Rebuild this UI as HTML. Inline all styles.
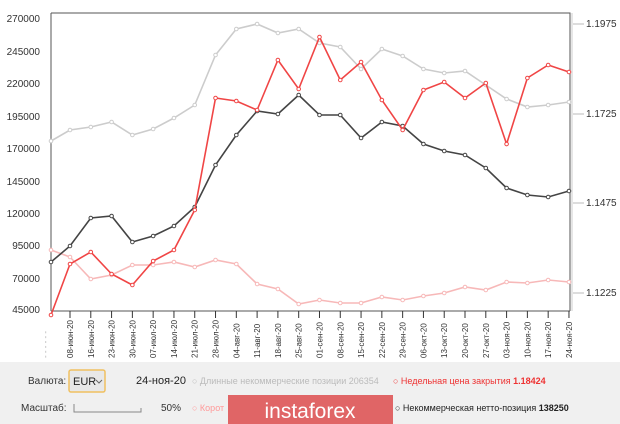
<!DOCTYPE html>
<html><head><meta charset="utf-8"><style>
html,body{margin:0;padding:0;width:620px;height:424px;overflow:hidden;background:#fff;font-family:"Liberation Sans","DejaVu Sans",sans-serif;}
</style></head><body>
<svg width="620" height="424" xmlns="http://www.w3.org/2000/svg" font-family="Liberation Sans, DejaVu Sans, sans-serif">
<rect x="0" y="0" width="620" height="424" fill="#fff"/>
<rect x="0" y="362" width="620" height="62" fill="#f0f0f0"/>
<path d="M51 13 H570 V311" fill="none" stroke="#555" stroke-width="1"/>
<line x1="51" y1="13" x2="51" y2="311" stroke="#555"/>
<line x1="51" y1="311" x2="570" y2="311" stroke="#555"/>
<line x1="572" y1="13" x2="572" y2="311" stroke="#ccc"/>
<g font-size="10" fill="#333" text-anchor="end">
<text x="40" y="22">270000</text><text x="40" y="55">245000</text><text x="40" y="87">220000</text><text x="40" y="120">195000</text><text x="40" y="152">170000</text><text x="40" y="185">145000</text><text x="40" y="217">120000</text><text x="40" y="249">95000</text><text x="40" y="282">70000</text><text x="40" y="313">45000</text>
</g>
<g stroke="#bbb"><line x1="573" y1="24" x2="584" y2="24"/><line x1="573" y1="114" x2="584" y2="114"/><line x1="573" y1="203" x2="584" y2="203"/><line x1="573" y1="293" x2="584" y2="293"/></g>
<g font-size="10" fill="#333"><text x="586" y="27">1.1975</text><text x="586" y="117">1.1725</text><text x="586" y="206">1.1475</text><text x="586" y="296">1.1225</text></g>
<g id="ticks" stroke="#333"></g>
<g id="xl" font-size="8" fill="#333"></g>
<g id="series"></g>
<text x="28" y="384" font-size="10" fill="#333">Валюта:</text>
<rect x="69" y="370" width="36" height="22" fill="#e8e8e8" stroke="#f0c060" stroke-width="1.5" rx="2"/>
<text x="73" y="385" font-size="11" fill="#222">EUR</text>
<path d="M96 380 l3 3 l3 -3" fill="none" stroke="#666"/>
<text x="136" y="384" font-size="11" fill="#222">24-ноя-20</text>
<text x="192" y="384" font-size="9" fill="#bbb">○ Длинные некоммерческие позиции  206354</text>
<text x="393" y="384" font-size="9" fill="#e33">○ Недельная цена закрытия  <tspan font-weight="bold">1.18424</tspan></text>
<text x="21" y="411" font-size="10" fill="#333">Масштаб:</text>
<path d="M74 404 v8 h67 v-4" fill="none" stroke="#888"/>
<text x="161" y="411" font-size="10" fill="#333">50%</text>
<text x="192" y="411" font-size="9" fill="#f99">○ Корот</text>
<rect x="228" y="395" width="165" height="29" fill="#e06566"/>
<text x="310" y="418" font-size="21" fill="#fff" text-anchor="middle">instaforex</text>
<text x="395" y="411" font-size="9" fill="#222">○ Некоммерческая нетто-позиция  <tspan font-weight="bold">138250</tspan></text>
</svg>
<script>
const X=[51];for(let i=0;i<25;i++)X.push(70+i*20.79);
const S=[
["#ccc",[141,130,127,122,135,129,118,105,55,29,24,33,29,43,47,69,49,56,69,73,71,85,99,107,105,102]],
["#f7b8b8",[250,257,279,275,265,265,262,267,260,264,284,289,304,300,303,303,297,300,296,293,287,290,282,283,280,282]],
["#444",[262,246,218,216,242,236,226,207,165,135,111,114,95,115,115,138,122,126,144,151,155,168,188,195,197,191]],
["#f04545",[315,264,252,274,285,261,250,210,98,101,110,60,89,37,80,62,100,130,90,82,98,83,144,78,65,72]]];
const ns="http://www.w3.org/2000/svg",g=document.getElementById("series");
S.forEach(([c,ys])=>{const p=document.createElementNS(ns,"polyline");p.setAttribute("points",ys.map((y,i)=>X[i]+","+y).join(" "));p.setAttribute("fill","none");p.setAttribute("stroke",c);p.setAttribute("stroke-width","1.6");g.appendChild(p);
ys.forEach((y,i)=>{const e=document.createElementNS(ns,"circle");e.setAttribute("cx",X[i]);e.setAttribute("cy",y);e.setAttribute("r","1.8");e.setAttribute("fill","#fff");e.setAttribute("stroke",c);g.appendChild(e);});});
const L=["08-июн-20","16-июн-20","23-июн-20","30-июн-20","07-июл-20","14-июл-20","21-июл-20","28-июл-20","04-авг-20","11-авг-20","18-авг-20","25-авг-20","01-сен-20","08-сен-20","15-сен-20","22-сен-20","29-сен-20","06-окт-20","13-окт-20","20-окт-20","27-окт-20","03-ноя-20","10-ноя-20","17-ноя-20","24-ноя-20"];
const t=document.getElementById("ticks"),xl=document.getElementById("xl");
L.forEach((s,i)=>{const x=X[i+1];const l=document.createElementNS(ns,"line");l.setAttribute("x1",x);l.setAttribute("x2",x);l.setAttribute("y1",311);l.setAttribute("y2",318);t.appendChild(l);
const tx=document.createElementNS(ns,"text");tx.setAttribute("transform",`translate(${x+3},358) rotate(-90)`);tx.textContent=s;xl.appendChild(tx);});
const tx=document.createElementNS(ns,"text");tx.setAttribute("transform",`translate(48,358) rotate(-90)`);tx.setAttribute("fill","#aaa");tx.textContent="- - - - - -";xl.appendChild(tx);
</script>
</body></html>
